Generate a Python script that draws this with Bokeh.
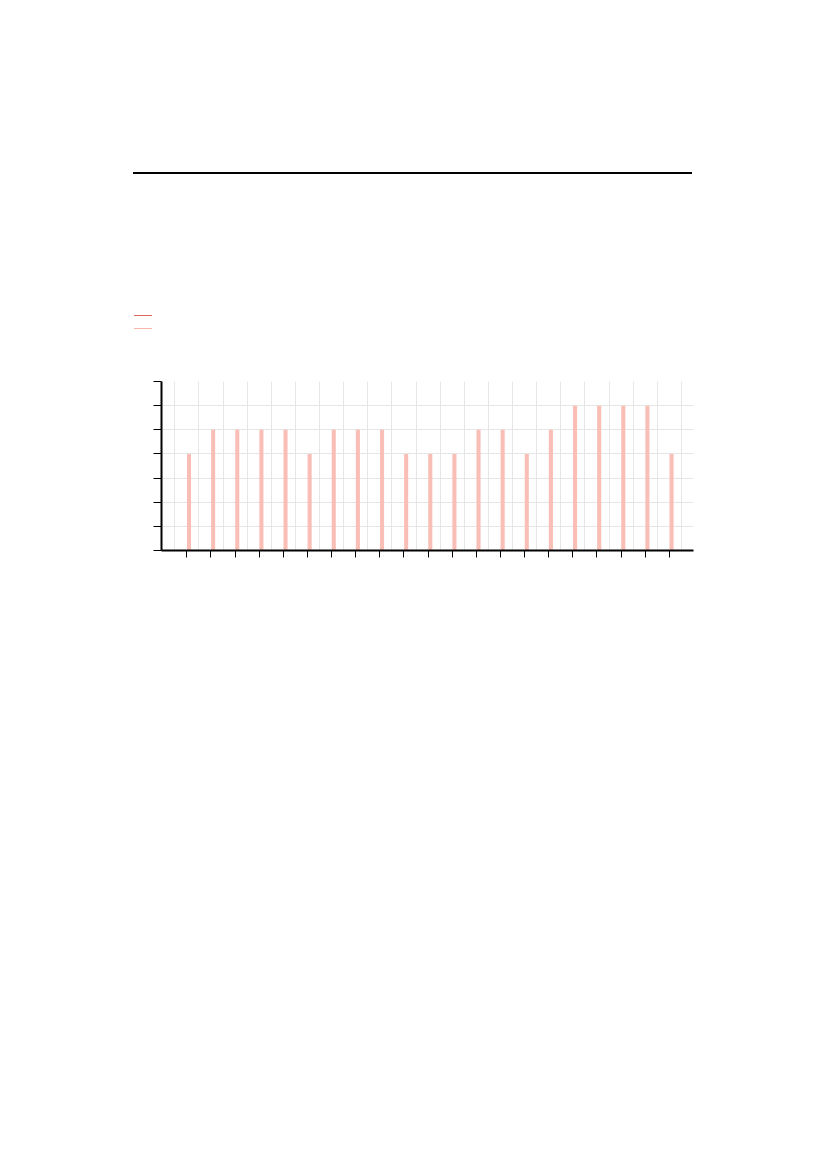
from bokeh.plotting import figure
from bokeh.layouts import column
from bokeh.models import (ColumnDataSource, FixedTicker, Range1d, Div,
                          CustomJSTickFormatter)
from bokeh.transform import dodge
from bokeh.embed import file_html
from bokeh.resources import INLINE

# data (the reference shows no labels)
idx = list(range(21))
series_a = [0] * 21
series_b = [4, 5, 5, 5, 5, 4, 5, 5, 5, 4, 4, 4, 5, 5, 4, 5, 6, 6, 6, 6, 4]
series_colors = ["#e06666", "#fbb4ae"]
y_ticks = list(range(8))

blank = CustomJSTickFormatter(code="return ''")

# header: rule across the page and a legend of short lines, no text
keys = "".join(
    f'<div style="position:absolute;left:134px;top:{314.6 + 13 * i}px;'
    f'width:18px;height:1.3px;background:{c};"></div>'
    for i, c in enumerate(series_colors))
head = Div(width=712, height=345, margin=0, text=(
    '<div style="position:relative;width:712px;height:345px;">'
    '<div style="position:absolute;left:133px;top:171.5px;width:559px;'
    'height:2px;background:#000;"></div>' + keys + '</div>'))

src = ColumnDataSource(dict(x=idx, a=series_a, b=series_b))
p = figure(width=712, height=235, x_range=Range1d(-1.05, 21.0),
           y_range=Range1d(0, 7), toolbar_location=None, output_backend="svg",
           min_border_left=161, min_border_right=19,
           min_border_top=36, min_border_bottom=30)
p.outline_line_color = None

p.vbar(x=dodge("x", -0.09, range=p.x_range), top="a", width=0.17, source=src,
       fill_color=series_colors[0], line_color=None)
p.vbar(x=dodge("x", 0.09, range=p.x_range), top="b", width=0.17, source=src,
       fill_color="#f9bfb6", line_color=None)

p.xaxis.ticker = FixedTicker(ticks=idx)
p.yaxis.ticker = FixedTicker(ticks=y_ticks)
p.xgrid.ticker = FixedTicker(ticks=[i - 0.5 for i in range(22)])
p.ygrid.ticker = FixedTicker(ticks=y_ticks)
p.grid.grid_line_color = "#e6e6e6"
p.grid.grid_line_width = 1
p.axis.formatter = blank
p.axis.axis_line_width = 2
p.axis.axis_line_color = "black"
p.axis.major_tick_line_color = "black"
p.axis.major_tick_line_width = 1
p.axis.major_tick_in = 0
p.xaxis.major_tick_out = 7
p.yaxis.major_tick_out = 8
p.axis.minor_tick_line_color = None

lay = column(head, p, spacing=0)
open("out.html", "w").write(file_html(lay, INLINE))
